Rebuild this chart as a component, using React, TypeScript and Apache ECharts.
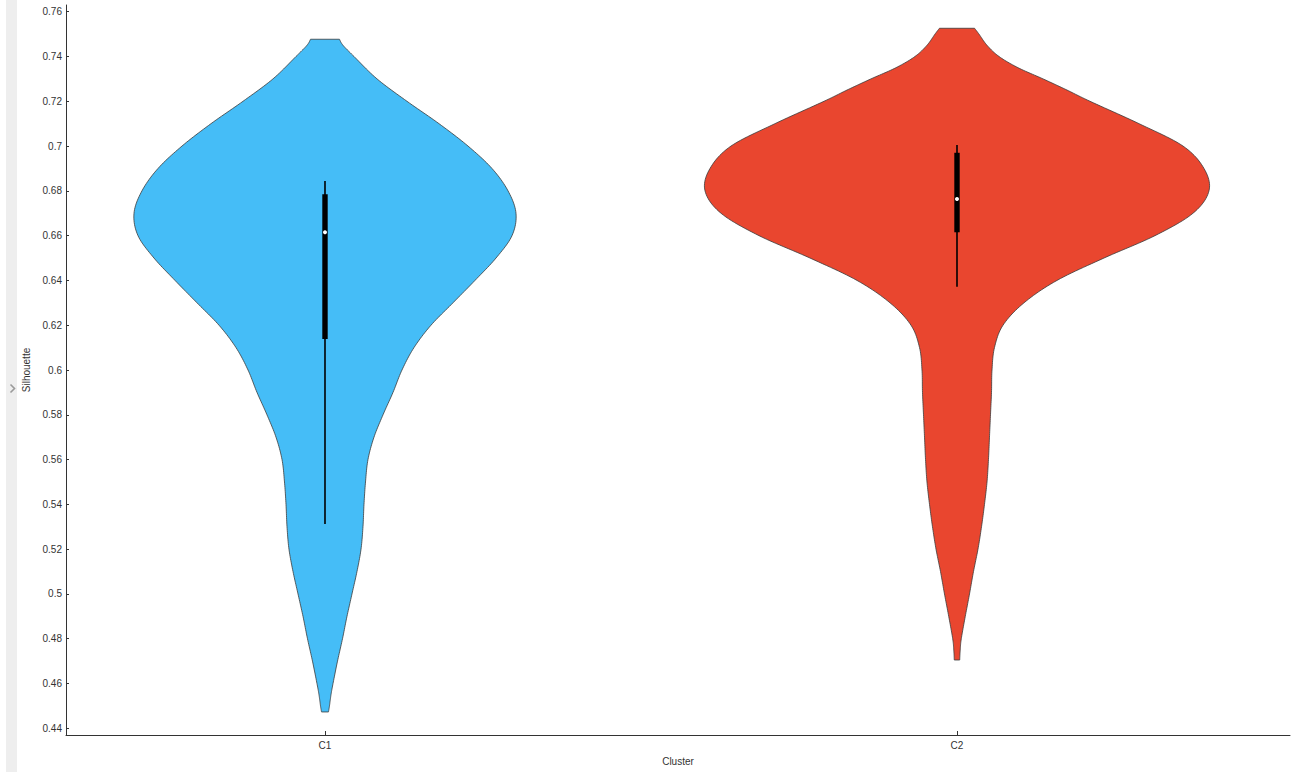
import React, { useEffect, useRef } from "react";
import * as echarts from "echarts";

// Cluster categories and their fill colours
const clusters = ["C1", "C2"];
const clusterColors = ["#45BDF7", "#E9462F"];

// Violin outline for C1: silhouette level (top to bottom) and half-width in category units
const c1Levels = [
  0.7477, 0.745, 0.74, 0.73, 0.72, 0.71, 0.7, 0.69, 0.68, 0.67, 0.66, 0.65, 0.64,
  0.63, 0.62, 0.61, 0.6, 0.59, 0.58, 0.57, 0.56, 0.55, 0.54, 0.53, 0.52, 0.51,
  0.5, 0.49, 0.48, 0.47, 0.46, 0.455, 0.45, 0.4473,
];
const c1Widths = [
  0.0229, 0.0285, 0.0459, 0.0823, 0.1297, 0.1804, 0.2263, 0.2642, 0.2896, 0.3022,
  0.2959, 0.2706, 0.2373, 0.2025, 0.1677, 0.1408, 0.1218, 0.1076, 0.0918, 0.0775,
  0.068, 0.0641, 0.0617, 0.0601, 0.057, 0.0506, 0.0427, 0.0348, 0.0277, 0.0198,
  0.0127, 0.0095, 0.0071, 0.0055,
];

// Violin outline for C2
const c2Levels = [
  0.7526, 0.75, 0.745, 0.74, 0.735, 0.73, 0.725, 0.72, 0.71, 0.7, 0.69, 0.68,
  0.67, 0.66, 0.65, 0.64, 0.63, 0.62, 0.61, 0.6, 0.59, 0.58, 0.57, 0.56, 0.55,
  0.54, 0.53, 0.52, 0.51, 0.5, 0.49, 0.48, 0.475, 0.4705,
];
const c2Widths = [
  0.0278, 0.0348, 0.0475, 0.0665, 0.0965, 0.1361, 0.1741, 0.2104, 0.288, 0.3576,
  0.3908, 0.3987, 0.3734, 0.3133, 0.2326, 0.1582, 0.106, 0.0728, 0.0593, 0.0554,
  0.0546, 0.053, 0.0514, 0.0498, 0.0475, 0.0435, 0.0388, 0.0332, 0.0261, 0.0198,
  0.0131, 0.0068, 0.0051, 0.0043,
];

// Box summary: lower whisker, Q1, median, Q3, upper whisker
const c1Box = [0.5312, 0.6138, 0.6615, 0.6785, 0.6844];
const c2Box = [0.6372, 0.6615, 0.6764, 0.697, 0.7005];

// Y axis tick values
const yTicks = [
  0.44, 0.46, 0.48, 0.5, 0.52, 0.54, 0.56, 0.58, 0.6, 0.62, 0.64, 0.66, 0.68, 0.7,
  0.72, 0.74, 0.76,
];

const violinLevels = [c1Levels, c2Levels];
const violinWidths = [c1Widths, c2Widths];
const boxStats = [c1Box, c2Box];

const FONT = "Tahoma, 'Liberation Sans', 'DejaVu Sans', sans-serif";

// Catmull-Rom resampling of a pixel polyline so the outline reads as a smooth curve
function smoothLine(pts: number[][], steps = 12): number[][] {
  const out: number[][] = [];
  const n = pts.length;
  for (let i = 0; i < n - 1; i++) {
    const p0 = pts[Math.max(i - 1, 0)];
    const p1 = pts[i];
    const p2 = pts[i + 1];
    const p3 = pts[Math.min(i + 2, n - 1)];
    for (let s = 0; s < steps; s++) {
      const t = s / steps;
      const t2 = t * t;
      const t3 = t2 * t;
      const pt = [0, 1].map(
        (k) =>
          0.5 *
          (2 * p1[k] +
            (-p0[k] + p2[k]) * t +
            (2 * p0[k] - 5 * p1[k] + 4 * p2[k] - p3[k]) * t2 +
            (-p0[k] + 3 * p1[k] - 3 * p2[k] + p3[k]) * t3)
      );
      out.push(pt);
    }
  }
  out.push(pts[n - 1]);
  return out;
}

function renderViolin(_params: any, api: any) {
  const idx = api.value(0) as number;
  const levels = violinLevels[idx];
  const widths = violinWidths[idx];
  const stats = boxStats[idx];
  const cx = api.coord([idx, levels[0]])[0];

  const right = levels.map((v, i) => api.coord([idx + widths[i], v]));
  const rightSmooth = smoothLine(right);
  const leftSmooth = rightSmooth.map((p) => [2 * cx - p[0], p[1]]).reverse();
  const outline = rightSmooth.concat(leftSmooth);

  const yLow = api.coord([idx, stats[0]])[1];
  const yQ1 = api.coord([idx, stats[1]])[1];
  const yMed = api.coord([idx, stats[2]])[1];
  const yQ3 = api.coord([idx, stats[3]])[1];
  const yHigh = api.coord([idx, stats[4]])[1];

  return {
    type: "group",
    children: [
      {
        type: "polygon",
        shape: { points: outline },
        style: { fill: clusterColors[idx], stroke: "#3a3a3a", lineWidth: 0.8 },
      },
      {
        type: "line",
        shape: { x1: cx, y1: yHigh, x2: cx, y2: yLow },
        style: { stroke: "#000", lineWidth: 1.6 },
      },
      {
        type: "rect",
        shape: { x: cx - 2.7, y: yQ3, width: 5.4, height: yQ1 - yQ3 },
        style: { fill: "#000" },
      },
      {
        type: "circle",
        shape: { cx, cy: yMed, r: 2 },
        style: { fill: "#fff" },
      },
    ],
  };
}

export default function App() {
  const ref = useRef<HTMLDivElement>(null);

  useEffect(() => {
    if (!ref.current) return;
    const chart = echarts.init(ref.current, null, { renderer: "svg" });
    chart.setOption({
      animation: false,
      backgroundColor: "#ffffff",
      grid: { left: 66, right: 6, top: 5, bottom: 37, containLabel: false },
      xAxis: {
        type: "value",
        min: -0.4098,
        max: 1.5269,
        name: "Cluster",
        nameLocation: "middle",
        nameGap: 21,
        nameTextStyle: { color: "#333", fontSize: 10, fontFamily: FONT },
        axisLine: { show: true, onZero: false, lineStyle: { color: "#333", width: 1 } },
        axisTick: {
          show: true,
          inside: true,
          length: 4,
          customValues: clusters.map((_c, i) => i),
          lineStyle: { color: "#333" },
        },
        axisLabel: {
          color: "#333",
          fontSize: 10,
          fontFamily: FONT,
          margin: 5,
          customValues: clusters.map((_c, i) => i),
          formatter: (v: number) => clusters[Math.round(v)] ?? "",
        },
        splitLine: { show: false },
      },
      yAxis: {
        type: "value",
        min: 0.43701,
        max: 0.76299,
        name: "Silhouette",
        nameLocation: "middle",
        nameRotate: 90,
        nameGap: 24,
        nameTextStyle: { color: "#333", fontSize: 10, fontFamily: FONT },
        axisLine: { show: true, onZero: false, lineStyle: { color: "#333", width: 1 } },
        axisTick: {
          show: true,
          inside: true,
          length: 3,
          customValues: yTicks,
          lineStyle: { color: "#333" },
        },
        axisLabel: {
          color: "#333",
          fontSize: 10,
          fontFamily: FONT,
          margin: 4,
          customValues: yTicks,
          formatter: (v: number) => String(+v.toFixed(2)),
        },
        splitLine: { show: false },
      },
      graphic: [
        {
          type: "rect",
          left: 6,
          top: 0,
          shape: { width: 11, height: 772 },
          style: { fill: "#eeeeee" },
          silent: true,
        },
        {
          type: "polyline",
          left: 8,
          top: 382,
          shape: { points: [[0, 0], [4, 4], [0, 8]] },
          style: { stroke: "#9a9a9a", lineWidth: 1.6, fill: null },
          silent: true,
        },
      ],
      series: [
        {
          type: "custom",
          renderItem: renderViolin,
          clip: false,
          data: clusters.map((_c, i) => [i, boxStats[i][2]]),
        },
      ],
    });
    return () => chart.dispose();
  }, []);

  return (
    <div
      ref={ref}
      style={{ position: "fixed", left: 0, top: 0, width: 1296, height: 772 }}
    />
  );
}
